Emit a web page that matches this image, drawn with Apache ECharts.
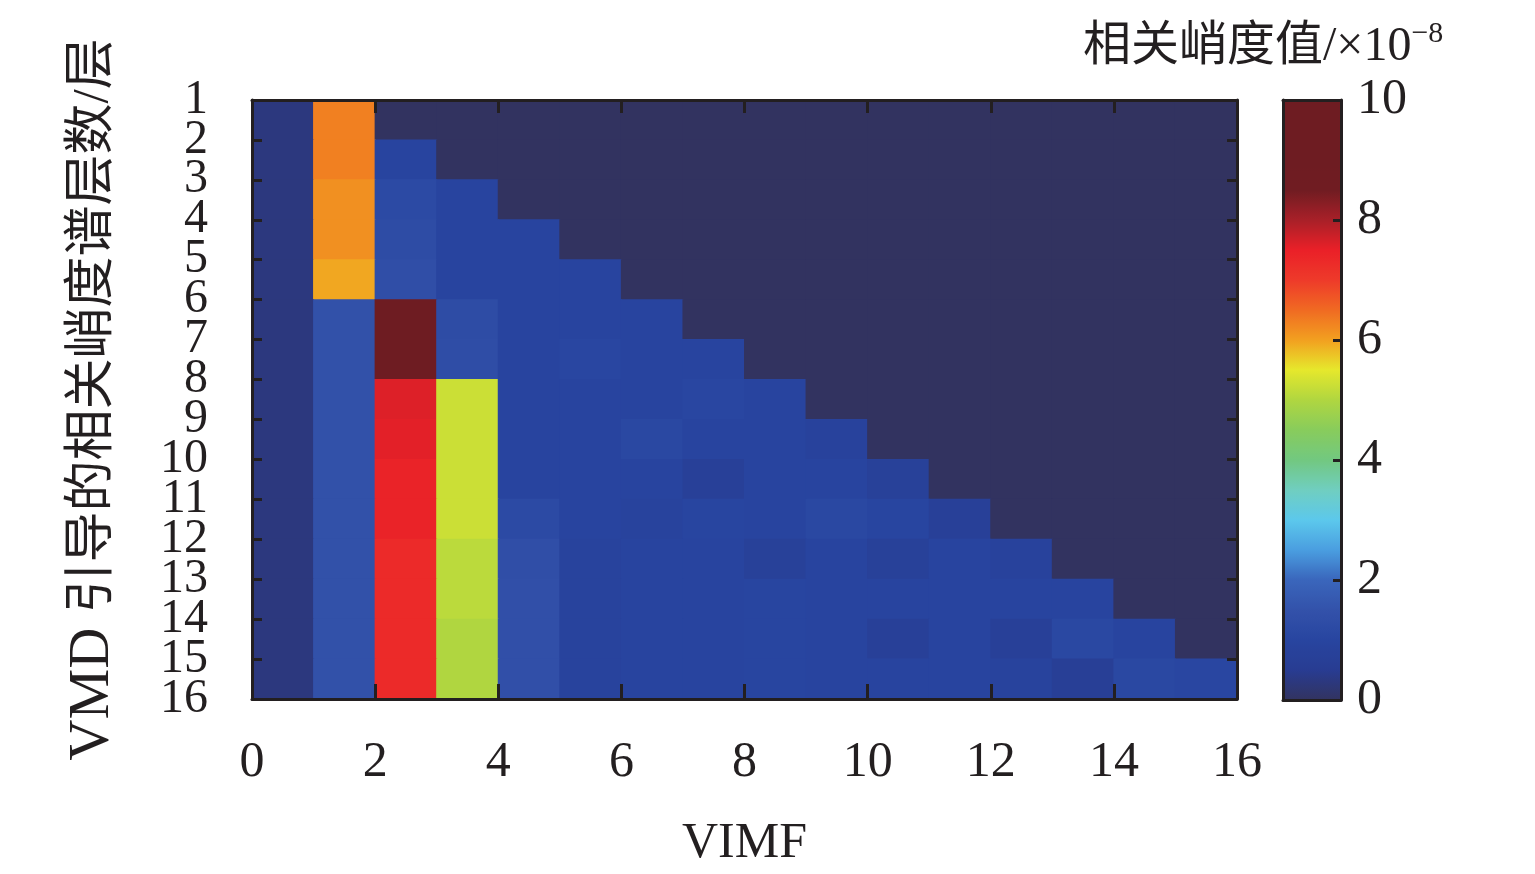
<!DOCTYPE html>
<html>
<head>
<meta charset="utf-8">
<script src="https://cdn.jsdelivr.net/npm/echarts@6/dist/echarts.min.js"></script>
<style>
html,body{margin:0;padding:0;background:#fff;}
#chart{width:1535px;height:874px;}
</style>
</head>
<body>
<div id="chart"></div>
<script>
// VIMF column categories (cells 0-1, 1-2, ..., 15-16)
const vimfCells = ['1','2','3','4','5','6','7','8','9','10','11','12','13','14','15','16'];
// Layer rows (cells between y ticks 1-2, 2-3, ..., 15-16)
const layerRows = ['1','2','3','4','5','6','7','8','9','10','11','12','13','14','15'];
// Tick labels
const xTickLabels = [0, 2, 4, 6, 8, 10, 12, 14, 16];
const yTickLabels = [1, 2, 3, 4, 5, 6, 7, 8, 9, 10, 11, 12, 13, 14, 15, 16];
const colorbarTicks = [0, 2, 4, 6, 8, 10];

// Correlated kurtosis values (×10^-8), one array per row, one value per VIMF cell
const row1  = [0.3, 6.3, 0, 0, 0, 0, 0, 0, 0, 0, 0, 0, 0, 0, 0, 0];
const row2  = [0.3, 6.3, 0.95, 0, 0, 0, 0, 0, 0, 0, 0, 0, 0, 0, 0, 0];
const row3  = [0.3, 6.15, 1.2, 0.95, 0, 0, 0, 0, 0, 0, 0, 0, 0, 0, 0, 0];
const row4  = [0.3, 6.15, 1.25, 0.95, 0.95, 0, 0, 0, 0, 0, 0, 0, 0, 0, 0, 0];
const row5  = [0.3, 5.95, 1.35, 0.95, 0.95, 0.95, 0, 0, 0, 0, 0, 0, 0, 0, 0, 0];
const row6  = [0.3, 1.45, 9.0, 1.25, 0.95, 0.95, 0.95, 0, 0, 0, 0, 0, 0, 0, 0, 0];
const row7  = [0.3, 1.45, 9.0, 1.3, 0.95, 1.05, 0.95, 0.95, 0, 0, 0, 0, 0, 0, 0, 0];
const row8  = [0.3, 1.45, 7.6, 5.25, 0.95, 0.95, 0.95, 1.05, 0.95, 0, 0, 0, 0, 0, 0, 0];
const row9  = [0.3, 1.45, 7.55, 5.25, 0.95, 0.95, 1.1, 0.95, 0.95, 0.85, 0, 0, 0, 0, 0, 0];
const row10 = [0.3, 1.45, 7.45, 5.25, 0.95, 0.95, 0.95, 0.7, 0.95, 0.95, 0.75, 0, 0, 0, 0, 0];
const row11 = [0.3, 1.45, 7.45, 5.25, 1.2, 0.95, 0.9, 1.0, 0.95, 1.1, 1.0, 0.7, 0, 0, 0, 0];
const row12 = [0.3, 1.45, 7.3, 5.1, 1.35, 0.9, 0.95, 0.95, 0.75, 0.95, 0.75, 0.95, 0.85, 0, 0, 0];
const row13 = [0.3, 1.45, 7.3, 5.1, 1.4, 0.9, 0.95, 0.95, 1.0, 0.95, 0.95, 0.95, 0.95, 0.95, 0, 0];
const row14 = [0.3, 1.45, 7.3, 5.0, 1.4, 0.9, 0.95, 0.95, 1.0, 0.95, 0.7, 0.95, 0.7, 1.1, 0.95, 0];
const row15 = [0.3, 1.45, 7.3, 5.0, 1.4, 0.9, 0.95, 0.95, 1.0, 0.95, 0.95, 0.95, 0.9, 0.65, 1.1, 1.05];
const rows = [row1, row2, row3, row4, row5, row6, row7, row8, row9, row10, row11, row12, row13, row14, row15];

// colormap (evenly spaced 0..10)
const cmap = ['#323360','#283c92','#2845a0','#3352aa','#3a66bc','#4a9ee0','#5cc8ec','#70cec0','#72c880','#88cc5c',
              '#b0d640','#e6e82c','#f2a020','#f06a22','#ee3a2a','#ea2028','#a82028','#701c22','#6e1c22','#6e1c22','#6e1c22'];

const data = [];
rows.forEach((r, yi) => r.forEach((v, xi) => data.push([xi, yi, v])));

const INK = '#231f20';
const NUMFONT = "'Liberation Serif', 'Times New Roman', serif";
const CJKFONT = "'Liberation Serif', 'Noto Sans CJK SC', serif";
const line = {show: true, onZero: false, lineStyle: {color: INK, width: 3}};
const yFirst = yTickLabels[0], yLast = yTickLabels[yTickLabels.length - 1];
const yLabelStyle = {fontSize: 48, fontFamily: NUMFONT, color: INK, margin: 44};

const chart = echarts.init(document.getElementById('chart'));
chart.setOption({
  animation: false,
  backgroundColor: '#ffffff',
  title: {
    text: '{a|相关峭度值/×10}{b|−8}',
    left: 1078, top: 14,
    textStyle: {
      fontWeight: 'normal',
      rich: {
        a: {fontSize: 48, fontWeight: 'normal', color: INK, fontFamily: CJKFONT, lineHeight: 56},
        b: {fontSize: 30, fontWeight: 'normal', color: INK, fontFamily: NUMFONT, verticalAlign: 'top', lineHeight: 56}
      }
    }
  },
  grid: [
    {left: 252, top: 100, width: 985, height: 600},
    {left: 1283, top: 100, width: 58, height: 600}
  ],
  xAxis: [
    {type: 'category', gridIndex: 0, data: vimfCells, show: false},
    {type: 'value', gridIndex: 0, min: 0, max: 16, interval: 2, position: 'bottom', z: 10,
     axisLine: line, splitLine: {show: false},
     axisTick: {inside: true, length: 15, lineStyle: {color: INK, width: 3}},
     axisLabel: {fontSize: 50, fontFamily: NUMFONT, color: INK, margin: 39, showMinLabel: true, showMaxLabel: true,
                 formatter: v => xTickLabels.includes(v) ? String(v) : ''},
     name: 'VIMF', nameLocation: 'middle', nameGap: 120,
     nameTextStyle: {fontSize: 50, fontFamily: NUMFONT, color: INK}},
    {type: 'value', gridIndex: 0, min: 0, max: 16, interval: 2, position: 'top', z: 10,
     axisLine: line, splitLine: {show: false},
     axisTick: {inside: true, length: 13, lineStyle: {color: INK, width: 3}},
     axisLabel: {show: false}},
    {type: 'value', gridIndex: 1, min: 0, max: 1, position: 'bottom', z: 10,
     axisLine: line, splitLine: {show: false}, axisTick: {show: false}, axisLabel: {show: false}},
    {type: 'value', gridIndex: 1, min: 0, max: 1, position: 'top', z: 10,
     axisLine: line, splitLine: {show: false}, axisTick: {show: false}, axisLabel: {show: false}}
  ],
  yAxis: [
    {type: 'category', gridIndex: 0, data: layerRows, inverse: true, show: false},
    // main left axis: ticks 1..16, labels 2..15
    {type: 'value', gridIndex: 0, min: 1, max: 16, interval: 1, inverse: true, position: 'left', z: 10,
     axisLine: line, splitLine: {show: false},
     axisTick: {inside: true, length: 10, lineStyle: {color: INK, width: 3}},
     axisLabel: Object.assign({showMinLabel: false, showMaxLabel: false,
                 formatter: v => (yTickLabels.includes(v) && v !== yFirst && v !== yLast) ? String(v) : ''}, yLabelStyle),
     name: '{v|VMD }{c|引导的相关峭度谱层数/层}', nameLocation: 'middle', nameRotate: 90, nameGap: 130,
     nameTextStyle: {color: INK, rich: {
       v: {fontSize: 57, fontFamily: NUMFONT, color: INK},
       c: {fontSize: 51, fontFamily: CJKFONT, color: INK}
     }}},
    {type: 'value', gridIndex: 0, min: 1, max: 16, interval: 1, inverse: true, position: 'right', z: 10,
     axisLine: line, splitLine: {show: false},
     axisTick: {inside: true, length: 10, lineStyle: {color: INK, width: 3}},
     axisLabel: {show: false}},
    {type: 'value', gridIndex: 1, min: 0, max: 10, interval: 2, position: 'right', z: 10,
     axisLine: line, splitLine: {show: false},
     axisTick: {inside: true, length: 8, lineStyle: {color: INK, width: 3}},
     axisLabel: {fontSize: 50, fontFamily: NUMFONT, color: INK, margin: 16, showMinLabel: true, showMaxLabel: true,
                 formatter: v => colorbarTicks.includes(v) ? String(v) : ''}},
    {type: 'value', gridIndex: 1, min: 0, max: 10, interval: 2, position: 'left', z: 10,
     axisLine: line, splitLine: {show: false}, axisTick: {show: false}, axisLabel: {show: false}},
    // end labels 1 and 16 of the left axis
    {type: 'value', gridIndex: 0, min: yFirst, max: yLast, interval: yLast - yFirst, inverse: true, position: 'left', z: 10,
     axisLine: {show: false, onZero: false}, splitLine: {show: false}, axisTick: {show: false},
     axisLabel: Object.assign({showMinLabel: true, showMaxLabel: true}, yLabelStyle)}
  ],
  visualMap: {
    type: 'continuous', min: 0, max: 10, seriesIndex: 0,
    orient: 'vertical', left: 1283, top: 100, itemWidth: 58, itemHeight: 600,
    padding: 0, calculable: false, hoverLink: false, realtime: false,
    text: null, showLabel: false,
    inRange: {color: cmap}
  },
  series: [{
    type: 'custom', xAxisIndex: 0, yAxisIndex: 0, data: data,
    encode: {x: 0, y: 1},
    renderItem: function (params, api) {
      const c = api.coord([api.value(0), api.value(1)]);
      const s = api.size([1, 1]);
      return {
        type: 'rect',
        shape: {x: c[0] - s[0] / 2 - 0.5, y: c[1] - s[1] / 2 - 0.5, width: s[0] + 1, height: s[1] + 1},
        style: {fill: api.visual('color')}
      };
    }
  }]
});
</script>
</body>
</html>
